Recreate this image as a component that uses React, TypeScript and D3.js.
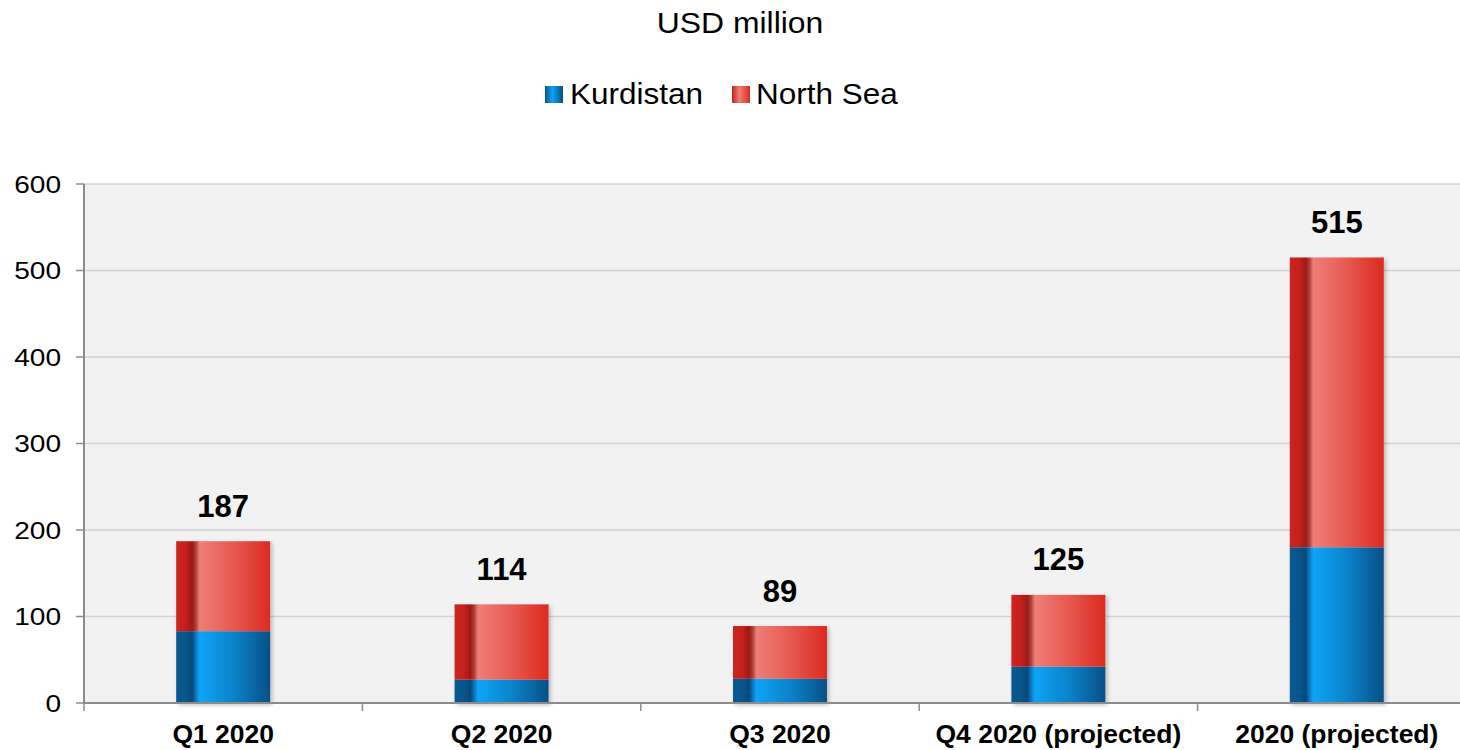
import React from "react";
import * as d3 from "d3";

const categories = ["Q1 2020", "Q2 2020", "Q3 2020", "Q4 2020 (projected)", "2020 (projected)"];
const kurdistan = [83, 27, 28, 42, 180];
const northSea = [104, 87, 61, 83, 335];
const totals = [187, 114, 89, 125, 515];
const yTicks = [0, 100, 200, 300, 400, 500, 600];
const seriesNames = ["Kurdistan", "North Sea"];

const W = 1460;
const H = 750;
const plotLeft = 84;
const plotRight = 1476;
const plotTop = 184;
const plotBottom = 703;

type TProps = {
  x: number;
  y: number;
  sx?: number;
  size: number;
  anchor?: "start" | "middle" | "end";
  bold?: boolean;
  children: React.ReactNode;
};

function T({ x, y, sx = 1, size, anchor = "start", bold = false, children }: TProps) {
  return (
    <g transform={`translate(${x},${y}) scale(${sx},1)`}>
      <text x={0} y={0} textAnchor={anchor} fontSize={size} fontWeight={bold ? "bold" : "normal"} fill="#000">
        {children}
      </text>
    </g>
  );
}

export default function App() {
  const x = d3.scaleBand<string>().domain(categories).range([plotLeft, plotRight]).paddingInner(0).paddingOuter(0);
  const y = d3.scaleLinear().domain([0, 600]).range([plotBottom, plotTop]);
  const bw = 94;
  const font = "'Liberation Sans', Arial, sans-serif";

  const stack = categories.map((c, i) => ({ c, k: kurdistan[i], n: northSea[i], t: totals[i] }));

  return (
    <svg width={W} height={H} style={{ position: "absolute", left: 0, top: 0 }} fontFamily={font}>
      <defs>
        <linearGradient id="gRed" x1="0" x2="1" y1="0" y2="0">
          <stop offset="0" stopColor="#cf2420" />
          <stop offset="0.1" stopColor="#c4201c" />
          <stop offset="0.17" stopColor="#9c1a15" />
          <stop offset="0.21" stopColor="#b0403a" />
          <stop offset="0.25" stopColor="#ee7f78" />
          <stop offset="0.6" stopColor="#e75a52" />
          <stop offset="1" stopColor="#dc2a20" />
        </linearGradient>
        <linearGradient id="gBlue" x1="0" x2="1" y1="0" y2="0">
          <stop offset="0" stopColor="#085a92" />
          <stop offset="0.1" stopColor="#07568c" />
          <stop offset="0.17" stopColor="#064878" />
          <stop offset="0.21" stopColor="#0a78c0" />
          <stop offset="0.25" stopColor="#0ea4f6" />
          <stop offset="0.6" stopColor="#0b84cc" />
          <stop offset="1" stopColor="#075086" />
        </linearGradient>
        <linearGradient id="gRedL" x1="0" x2="1" y1="0" y2="0">
          <stop offset="0" stopColor="#c4201c" />
          <stop offset="0.4" stopColor="#ee7f78" />
          <stop offset="1" stopColor="#dc2a20" />
        </linearGradient>
        <linearGradient id="gBlueL" x1="0" x2="1" y1="0" y2="0">
          <stop offset="0" stopColor="#07568c" />
          <stop offset="0.4" stopColor="#0ea4f6" />
          <stop offset="1" stopColor="#075086" />
        </linearGradient>
        <filter id="shadow" x="-20%" y="-20%" width="140%" height="140%">
          <feDropShadow dx="2" dy="2" stdDeviation="2" floodColor="#000" floodOpacity="0.25" />
        </filter>
      </defs>

      <T x={740} y={33} size={29} sx={1.1} anchor="middle">USD million</T>

      {/* legend */}
      <rect x={545} y={86} width={18} height={17} fill="url(#gBlueL)" />
      <T x={570} y={104} size={30} sx={1.05}>{seriesNames[0]}</T>
      <rect x={732} y={86} width={18} height={17} fill="url(#gRedL)" />
      <T x={756} y={104} size={30} sx={1.05}>{seriesNames[1]}</T>

      {/* plot bg */}
      <rect x={plotLeft} y={plotTop} width={plotRight - plotLeft} height={plotBottom - plotTop} fill="#f2f2f2" />
      {yTicks.filter((t) => t > 0).map((t) => (
        <line key={t} x1={plotLeft} x2={plotRight} y1={y(t)} y2={y(t)} stroke="#d2d2d2" strokeWidth={1.5} />
      ))}

      {/* bars */}
      {stack.map((d) => {
        const cx = (x(d.c) as number) + x.bandwidth() / 2;
        const x0 = cx - bw / 2;
        return (
          <g key={d.c}>
            <g filter="url(#shadow)">
              <rect x={x0} y={y(d.k + d.n)} width={bw} height={y(0) - y(d.k + d.n)} fill="#ddd" />
            </g>
            <rect x={x0} y={y(d.k)} width={bw} height={y(0) - y(d.k)} fill="url(#gBlue)" />
            <rect x={x0} y={y(d.k + d.n)} width={bw} height={y(d.k) - y(d.k + d.n)} fill="url(#gRed)" />
            <T x={cx} y={y(d.t) - 24.5} size={31} anchor="middle" bold>{d.t}</T>
          </g>
        );
      })}

      {/* axes */}
      <line x1={plotLeft} x2={plotLeft} y1={plotTop} y2={plotBottom} stroke="#8c8c8c" strokeWidth={2} />
      {yTicks.map((t) => (
        <g key={t}>
          <line x1={76} x2={plotLeft} y1={y(t)} y2={y(t)} stroke="#8c8c8c" strokeWidth={1.5} />
          <T x={61} y={y(t) + 8.5} size={24} sx={1.17} anchor="end">{t}</T>
        </g>
      ))}
      <line x1={plotLeft} x2={plotRight} y1={plotBottom} y2={plotBottom} stroke="#8c8c8c" strokeWidth={2} />
      {categories.map((c) => (
        <g key={c}>
          <line x1={x(c) as number} x2={x(c) as number} y1={plotBottom} y2={plotBottom + 8} stroke="#8c8c8c" strokeWidth={1.5} />
          <T x={(x(c) as number) + x.bandwidth() / 2} y={743} size={25} sx={1.06} anchor="middle" bold>{c}</T>
        </g>
      ))}
    </svg>
  );
}
